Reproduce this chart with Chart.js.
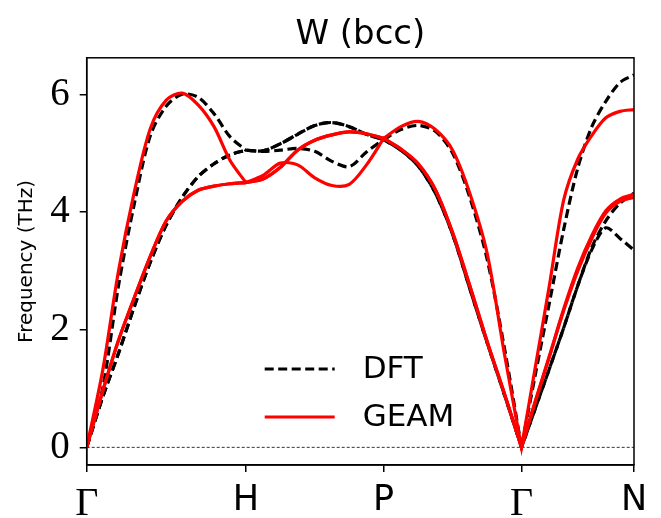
<!DOCTYPE html>
<html lang="en">
<head>
  <meta charset="UTF-8">
  <title>W (bcc)</title>
  <script src="https://cdn.jsdelivr.net/npm/chart.js"></script>
  <style>
    html, body { margin: 0; padding: 0; background: #fff; }
  </style>
</head>
<body>
<canvas id="bandChart" width="661" height="518"></canvas>

<script>
  // high-symmetry points, path length in 2pi/a
  const kLabels = ['Γ', 'H', 'P', 'Γ', 'N'];
  const kTicks = [0, 1, 1.866, 2.732, 3.439];
  const freqTicks = [0, 2, 4, 6];

  // q-path, segment end points repeated (G-H, H-P, P-G, G-N)
  const kDist = [
    0, 0.1, 0.2, 0.3, 0.4, 0.5, 0.6, 0.7, 0.8, 0.9, 1.0,
    1.0, 1.108, 1.217, 1.325, 1.433, 1.541, 1.650, 1.758, 1.866,
    1.866, 1.974, 2.083, 2.191, 2.299, 2.407, 2.516, 2.624, 2.732,
    2.732, 2.820, 2.909, 2.997, 3.086, 3.174, 3.262, 3.351, 3.439
  ];

  // DFT bands (THz)
  const dftBand1 = [
    0, 0.85, 1.6, 2.4, 3.15, 3.78, 4.25, 4.6, 4.82, 4.97, 5.05,
    5.05, 5.03, 5.05, 5.08, 5.03, 4.86, 4.77, 5.02, 5.23,
    5.23, 5.05, 4.78, 4.32, 3.62, 2.7, 1.78, 0.9, 0,
    0, 0.67, 1.35, 2.03, 2.75, 3.36, 3.73, 3.55, 3.35
  ];
  const dftBand2 = [
    0, 0.85, 1.6, 2.4, 3.15, 3.78, 4.25, 4.6, 4.82, 4.97, 5.05,
    5.05, 5.04, 5.16, 5.32, 5.47, 5.52, 5.45, 5.32, 5.23,
    5.23, 5.05, 4.78, 4.32, 3.62, 2.7, 1.78, 0.9, 0,
    0, 0.67, 1.35, 2.03, 2.75, 3.4, 3.85, 4.15, 4.32
  ];
  const dftBand3 = [
    0, 1.0, 2.75, 4.15, 5.3, 5.8, 6.0, 5.95, 5.67, 5.28, 5.05,
    5.05, 5.04, 5.16, 5.32, 5.47, 5.52, 5.45, 5.32, 5.23,
    5.23, 5.4, 5.47, 5.37, 5.0, 4.25, 3.2, 1.7, 0,
    0, 1.25, 2.48, 3.7, 4.75, 5.45, 5.88, 6.2, 6.33
  ];

  // GEAM bands (THz)
  const geamBand1 = [
    0, 0.95, 1.82, 2.55, 3.25, 3.85, 4.18, 4.37, 4.44, 4.48, 4.5,
    4.5, 4.62, 4.83, 4.8, 4.58, 4.45, 4.47, 4.8, 5.25,
    5.25, 5.07, 4.82, 4.38, 3.65, 2.75, 1.8, 0.92, 0,
    0, 0.78, 1.55, 2.32, 3.0, 3.55, 3.98, 4.18, 4.25
  ];
  const geamBand2 = [
    0, 0.95, 1.82, 2.55, 3.25, 3.85, 4.18, 4.37, 4.44, 4.48, 4.5,
    4.5, 4.56, 4.76, 5.05, 5.22, 5.31, 5.36, 5.33, 5.25,
    5.25, 5.07, 4.82, 4.38, 3.65, 2.75, 1.8, 0.92, 0,
    0, 0.8, 1.57, 2.35, 3.05, 3.6, 4.02, 4.22, 4.3
  ];
  const geamBand3 = [
    0, 1.3, 3.0, 4.35, 5.42, 5.9, 6.02, 5.82, 5.45, 4.88, 4.5,
    4.5, 4.56, 4.76, 5.05, 5.22, 5.31, 5.36, 5.33, 5.25,
    5.25, 5.45, 5.54, 5.4, 5.05, 4.32, 3.3, 1.6, 0,
    0, 1.38, 2.78, 4.2, 4.9, 5.3, 5.6, 5.71, 5.74
  ];

  const legendNames = ['DFT', 'GEAM'];

  function toPoints(ys) {
    return ys.map((y, i) => ({x: kDist[i], y: y}));
  }

  const dftStyle = {borderColor: '#000000', borderWidth: 3.2, borderDash: [9, 4.5]};
  const geamStyle = {borderColor: '#ff0000', borderWidth: 3.2, borderDash: []};

  function band(ys, style, name) {
    return Object.assign({
      label: name,
      data: toPoints(ys),
      pointRadius: 0,
      fill: false,
      tension: 0.3
    }, style);
  }

  // first dataset is drawn on top, so GEAM goes first
  const datasets = [
    band(geamBand1, geamStyle, 'GEAM'),
    band(geamBand2, geamStyle, 'GEAM'),
    band(geamBand3, geamStyle, 'GEAM'),
    band(dftBand1, dftStyle, 'DFT'),
    band(dftBand2, dftStyle, 'DFT'),
    band(dftBand3, dftStyle, 'DFT'),
    {
      label: 'zero',
      data: [{x: kTicks[0], y: 0}, {x: kTicks[kTicks.length - 1], y: 0}],
      borderColor: '#000000',
      borderWidth: 0.8,
      borderDash: [3, 2],
      pointRadius: 0
    }
  ];

  // frame round the plot and the legend inside it
  const framePlugin = {
    id: 'frame',
    afterDatasetsDraw(chart) {
      const {ctx, chartArea: a} = chart;
      ctx.save();
      ctx.strokeStyle = '#000';
      ctx.lineWidth = 1.5;
      ctx.setLineDash([]);
      ctx.strokeRect(a.left, a.top, a.right - a.left, a.bottom - a.top);

      const styles = [dftStyle, geamStyle];
      const x0 = a.left + 178;
      const rows = [a.bottom - 96, a.bottom - 48];
      ctx.font = '31px "DejaVu Sans"';
      ctx.textBaseline = 'middle';
      ctx.fillStyle = '#000';
      legendNames.forEach((name, i) => {
        const s = styles[i];
        ctx.strokeStyle = s.borderColor;
        ctx.lineWidth = s.borderWidth;
        ctx.setLineDash(s.borderDash);
        ctx.beginPath();
        ctx.moveTo(x0, rows[i]);
        ctx.lineTo(x0 + 70, rows[i]);
        ctx.stroke();
        ctx.fillText(name, x0 + 98, rows[i] + 1);
      });
      ctx.restore();
    }
  };

  const ctx = document.getElementById('bandChart').getContext('2d');

  const bandChart = new Chart(ctx, {
    type: 'line',
    data: {datasets: datasets},
    options: {
      responsive: false,
      animation: false,
      layout: {padding: {left: 0, right: 27, top: 0, bottom: 0}},
      plugins: {
        legend: {display: false},
        tooltip: {enabled: false},
        title: {
          display: true,
          text: 'W (bcc)',
          fullSize: false,
          color: '#000',
          font: {family: 'DejaVu Sans', size: 34, weight: 'normal'},
          padding: {top: 15, bottom: 2}
        }
      },
      scales: {
        x: {
          type: 'linear',
          min: 0,
          max: 3.439,
          afterBuildTicks: scale => {
            scale.ticks = kTicks.map(v => ({value: v}));
          },
          afterFit: scale => {
            scale.height = 53;
          },
          ticks: {
            autoSkip: false,
            maxRotation: 0,
            color: '#000',
            padding: 8,
            callback: (value, index) => kLabels[index],
            font: c => (kLabels[c.index] === 'Γ')
              ? {family: 'Liberation Serif', size: 40}
              : {family: 'DejaVu Sans', size: 35}
          },
          grid: {
            drawOnChartArea: false,
            drawTicks: true,
            tickLength: 7,
            color: '#000',
            lineWidth: 1.5
          },
          border: {display: true, color: '#000', width: 1.5}
        },
        y: {
          min: -0.3,
          max: 6.62,
          afterBuildTicks: scale => {
            scale.ticks = freqTicks.map(v => ({value: v}));
          },
          afterFit: scale => {
            scale.width = 86.7;
          },
          ticks: {
            color: '#000',
            padding: 10,
            font: {family: 'Liberation Serif', size: 39}
          },
          title: {
            display: true,
            text: 'Frequency (THz)',
            color: '#000',
            font: {family: 'DejaVu Sans', size: 20},
            padding: {top: 15, bottom: 0}
          },
          grid: {
            drawOnChartArea: false,
            drawTicks: true,
            tickLength: 7,
            color: '#000',
            lineWidth: 1.5
          },
          border: {display: true, color: '#000', width: 1.5}
        }
      }
    },
    plugins: [framePlugin]
  });
</script>
</body>
</html>
